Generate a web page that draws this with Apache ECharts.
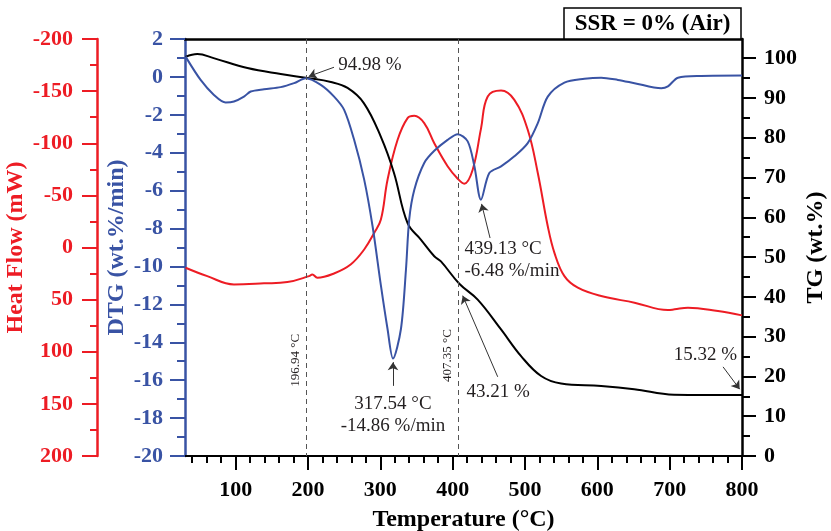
<!DOCTYPE html>
<html>
<head>
<meta charset="utf-8">
<script src="https://cdn.jsdelivr.net/npm/echarts@6/dist/echarts.min.js"></script>
<style>html,body{margin:0;padding:0;background:#fff}#c{width:831px;height:531px}</style>
</head>
<body>
<div id="c"></div>
<script>
// ---- data ----
const xMajor = [100, 200, 300, 400, 500, 600, 700, 800];
const xMinor = [40, 60, 80, 120, 140, 160, 180, 220, 240, 260, 280, 320, 340, 360, 380, 420, 440, 460, 480, 520, 540, 560, 580, 620, 640, 660, 680, 720, 740, 760, 780];
const tgMajor = [0, 10, 20, 30, 40, 50, 60, 70, 80, 90, 100];
const tgMinor = [5, 15, 25, 35, 45, 55, 65, 75, 85, 95];

const tgData = [[30.8,100.3],[47,101.0],[69.6,100.0],[116.3,97.5],[162.3,96.0],[199.3,95.0],[231.6,94.0],[254.7,92.5],[277.2,88.7],[300.8,80.2],[318.8,71.2],[337.7,58.5],[356,54.4],[374.6,50.2],[383.8,48.9],[409.2,43.3],[434.6,39.3],[466.9,31.8],[494.6,25.1],[522.3,20.1],[549.9,18.2],[605.3,17.6],[651,16.8],[706,15.4],[800,15.3]];

const dtgData = [[30.8,1.07],[51.6,-0.16],[70,-0.95],[86.2,-1.35],[97.7,-1.3],[111.5,-1.04],[120.8,-0.77],[139.2,-0.65],[162.3,-0.54],[180.8,-0.33],[197,-0.07],[217.7,-0.42],[236.1,-1.04],[250,-1.74],[263.8,-3.32],[277.7,-5.42],[289.3,-7.88],[300.8,-11.0],[310,-13.3],[317.5,-14.86],[328.5,-13.3],[335.4,-10.2],[340,-7.5],[347,-5.95],[360.7,-4.54],[374.6,-3.9],[393,-3.32],[407,-3.02],[420.8,-3.4],[430,-4.7],[439.1,-6.48],[450.7,-5.07],[466.9,-4.72],[485.3,-4.19],[503.8,-3.49],[517.7,-2.44],[531.5,-1.04],[554.5,-0.3],[582.2,-0.1],[605.3,-0.04],[628.4,-0.16],[651.4,-0.33],[688.4,-0.6],[697.6,-0.5],[711.5,-0.04],[743.7,0.05],[800,0.07]];

const hfData = [[30.8,19.4],[60.8,27.5],[97.7,35.4],[139.2,34.4],[171.6,33.2],[201.5,27.5],[206,25.8],[213,29],[236,24.9],[259,16.3],[277.7,1.9],[291.5,-14],[300.8,-26.8],[310,-65],[323.9,-103.3],[337.7,-124.1],[347,-126.3],[360.7,-119.3],[374.6,-100],[393,-78],[407,-66],[416,-61.2],[427.7,-74.6],[439.2,-114],[448.5,-144.8],[466.9,-150.5],[485.3,-141.6],[503.8,-112.9],[517.7,-71.5],[531.5,-20.4],[540.7,5.1],[554.5,27.5],[573,38.6],[605.3,46.6],[651.4,52.9],[697.6,60],[706.8,59.3],[725.3,57.7],[766.8,61],[800,65.1]];

const peakTemps = [196.94, 407.35];

// ---- styling ----
const FONT = '"Liberation Serif", "Times New Roman", serif';
const RED = '#ed1c24', BLUE = '#3953a4', BLACK = '#000', TXT = '#231f20';
const tickLbl = (c) => ({color: c, fontFamily: FONT, fontWeight: 'bold', fontSize: 22});
const nameStyle = (c) => ({color: c, fontFamily: FONT, fontWeight: 'bold', fontSize: 24});
const annLabel = (txt, pos, extra) => Object.assign({
  show: true, formatter: txt, position: pos, distance: 0,
  color: TXT, fontFamily: FONT, fontSize: 19, lineHeight: 22
}, extra || {});
const pt = (coord, label) => ({coord: coord, symbol: 'circle', symbolSize: 1, itemStyle: {color: 'rgba(0,0,0,0)'}, label: label});

const chart = echarts.init(document.getElementById('c'), null, {renderer: 'canvas'});
chart.setOption({
  animation: false,
  backgroundColor: '#fff',
  grid: {left: 185, right: 89, top: 39, bottom: 75, containLabel: false, outerBoundsMode: 'none'},
  xAxis: [
    {type: 'value', min: 30, max: 800, position: 'bottom',
     axisLine: {onZero: false, lineStyle: {color: BLACK, width: 2}},
     axisTick: {customValues: xMajor, length: 14, lineStyle: {color: BLACK, width: 2}},
     axisLabel: Object.assign({customValues: xMajor, margin: 23}, tickLbl(BLACK)),
     splitLine: {show: false},
     name: 'Temperature (°C)', nameLocation: 'middle', nameGap: 52, nameMoveOverlap: false, nameTextStyle: nameStyle(BLACK)},
    {type: 'value', min: 30, max: 800, position: 'bottom',
     axisLine: {show: false, onZero: false},
     axisTick: {customValues: xMinor, length: 7, lineStyle: {color: BLACK, width: 2}},
     axisLabel: {show: false}, splitLine: {show: false}},
    {type: 'value', min: 30, max: 800, position: 'top',
     axisLine: {onZero: false, lineStyle: {color: BLACK, width: 2.5}},
     axisTick: {show: false}, axisLabel: {show: false}, splitLine: {show: false}}
  ],
  yAxis: [
    {type: 'value', min: -20, max: 2, interval: 2, position: 'left', offset: 0,
     axisLine: {show: true, onZero: false, lineStyle: {color: BLUE, width: 2.5}},
     axisTick: {show: true, length: 15, lineStyle: {color: BLUE, width: 2}},
     minorTick: {show: true, splitNumber: 2, length: 8, lineStyle: {color: BLUE, width: 2}},
     axisLabel: Object.assign({margin: 22}, tickLbl(BLUE)),
     splitLine: {show: false}, minorSplitLine: {show: false},
     name: 'DTG (wt.%/min)', nameLocation: 'middle', nameGap: 56, nameRotate: 90, nameMoveOverlap: false, nameTextStyle: nameStyle(BLUE)},
    {type: 'value', min: -200, max: 200, interval: 50, inverse: true, position: 'left', offset: 88,
     axisLine: {show: true, onZero: false, lineStyle: {color: RED, width: 2.5}},
     axisTick: {show: true, length: 15, lineStyle: {color: RED, width: 2}},
     minorTick: {show: true, splitNumber: 2, length: 7, lineStyle: {color: RED, width: 2}},
     axisLabel: Object.assign({margin: 24}, tickLbl(RED)),
     splitLine: {show: false}, minorSplitLine: {show: false},
     name: 'Heat Flow (mW)', nameLocation: 'middle', nameGap: 69, nameRotate: 90, nameMoveOverlap: false, nameTextStyle: nameStyle(RED)},
    {type: 'value', min: 0, max: 104.8, position: 'right', offset: 0,
     axisLine: {show: true, onZero: false, lineStyle: {color: BLACK, width: 2.5}},
     axisTick: {show: true, customValues: tgMajor, length: 14, lineStyle: {color: BLACK, width: 2}},
     axisLabel: Object.assign({customValues: tgMajor, margin: 22}, tickLbl(BLACK)),
     splitLine: {show: false},
     name: 'TG (wt.%)', nameLocation: 'middle', nameGap: 62, nameRotate: 90, nameMoveOverlap: false, nameTextStyle: nameStyle(BLACK)},
    {type: 'value', min: 0, max: 104.8, position: 'right', offset: 0,
     axisLine: {show: false, onZero: false},
     axisTick: {show: true, customValues: tgMinor, length: 8, lineStyle: {color: BLACK, width: 2}},
     axisLabel: {show: false}, splitLine: {show: false}}
  ],
  series: [
    {name: 'TG', type: 'line', xAxisIndex: 0, yAxisIndex: 2, data: tgData, smooth: 0.4,
     showSymbol: false, lineStyle: {color: BLACK, width: 2}, z: 3,
     markLine: {silent: true, symbol: ['none', 'arrow'], symbolSize: 8,
       lineStyle: {color: '#333', width: 1, type: 'solid'}, label: {show: false},
       data: [
         [{coord: [236, 97.7]}, {coord: [201, 95.4]}],
         [{coord: [462.3, 19.9]}, {coord: [413.9, 40.3]}],
         [{coord: [773.8, 22.4]}, {coord: [796.8, 16.8]}]
       ]},
     markPoint: {silent: true, data: [
       pt([241.3, 98.2], annLabel('94.98 %', 'right')),
       pt([418.4, 16.1], annLabel('43.21 %', 'right')),
       pt([705, 25.4], annLabel('15.32 %', 'right'))
     ]}},
    {name: 'DTG', type: 'line', xAxisIndex: 0, yAxisIndex: 0, data: dtgData, smooth: 0.3,
     showSymbol: false, lineStyle: {color: BLUE, width: 2}, z: 4,
     markLine: {silent: true, symbol: ['none', 'arrow'], symbolSize: 8,
       lineStyle: {color: '#333', width: 1, type: 'solid'}, label: {show: false},
       data: [
         [{coord: [peakTemps[0], 2], symbol: 'none', lineStyle: {type: [5, 4], color: '#555'}},
          {coord: [peakTemps[0], -20], symbol: 'none'}],
         [{coord: [peakTemps[1], 2], symbol: 'none', lineStyle: {type: [5, 4], color: '#555'}},
          {coord: [peakTemps[1], -20], symbol: 'none'}],
         [{coord: [317.54, -16.3]}, {coord: [317.54, -15.05]}],
         [{coord: [451.7, -8.5]}, {coord: [440, -6.7]}]
       ]},
     markPoint: {silent: true, data: [
       pt([317.54, -17.84], annLabel('317.54 °C\n-14.86 %/min', 'inside', {align: 'center'})),
       pt([415.6, -9.68], annLabel('439.13 °C\n-6.48 %/min', 'right')),
       pt([183, -14.95], annLabel('196.94 °C', 'inside', {rotate: 90, fontSize: 13, align: 'center'})),
       pt([393.5, -14.7], annLabel('407.35 °C', 'inside', {rotate: 90, fontSize: 13, align: 'center'}))
     ]}},
    {name: 'Heat Flow', type: 'line', xAxisIndex: 0, yAxisIndex: 1, data: hfData, smooth: 0.4,
     showSymbol: false, lineStyle: {color: RED, width: 2}, z: 2}
  ],
  graphic: [
    {type: 'rect', shape: {x: 564, y: 8, width: 177, height: 31},
     style: {fill: '#fff', stroke: '#000', lineWidth: 1.5}, z: 10},
    {type: 'text', x: 652.5, y: 24, z: 11,
     style: {text: 'SSR = 0% (Air)', align: 'center', verticalAlign: 'middle',
             font: 'bold 23px "Liberation Serif", serif', fill: '#000'}}
  ]
});
</script>
</body>
</html>
